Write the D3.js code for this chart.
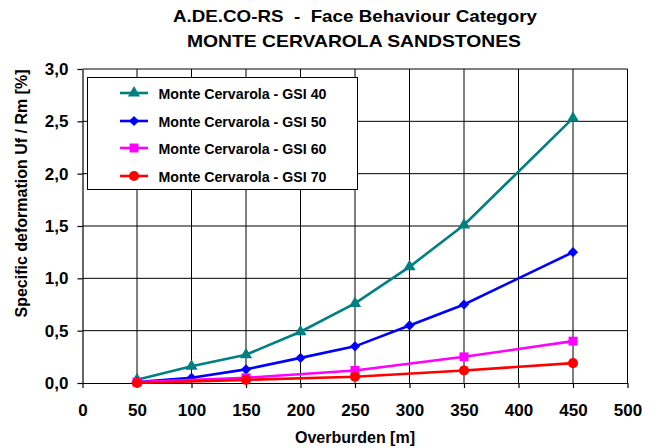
<!DOCTYPE html>
<html><head><meta charset="utf-8">
<script src="https://cdn.jsdelivr.net/npm/d3@7"></script>
<style>body{margin:0;background:#fff}svg{display:block;font-family:"Liberation Sans",Arial,sans-serif;font-weight:bold}text{white-space:pre}</style>
</head><body><svg id="c" width="656" height="448"></svg>
<script>
const titleLines = ["A.DE.CO-RS  -  Face Behaviour Category", "MONTE CERVAROLA SANDSTONES"];
const xTitle = "Overburden [m]";
const yTitle = "Specific deformation Uf / Rm [%]";
const xTicks = [0,50,100,150,200,250,300,350,400,450,500];
const yTicks = [0,0.5,1,1.5,2,2.5,3];
const seriesNames = ["Monte Cervarola - GSI 40","Monte Cervarola - GSI 50","Monte Cervarola - GSI 60","Monte Cervarola - GSI 70"];
const gsi40X = [50,100,150,200,250,300,350,450];
const gsi40Y = [0.03,0.16,0.27,0.49,0.76,1.11,1.51,2.53];
const gsi50X = [50,100,150,200,250,300,350,450];
const gsi50Y = [0.01,0.05,0.13,0.24,0.35,0.55,0.75,1.25];
const gsi60X = [50,150,250,350,450];
const gsi60Y = [0.01,0.05,0.12,0.25,0.40];
const gsi70X = [50,150,250,350,450];
const gsi70Y = [0.0,0.03,0.06,0.12,0.19];

const series = [
  {name: seriesNames[0], xs: gsi40X, ys: gsi40Y, color: "#008080", sym: d3.symbolTriangle, size: 64, rot: 0},
  {name: seriesNames[1], xs: gsi50X, ys: gsi50Y, color: "#0000FF", sym: d3.symbolSquare, size: 52, rot: 45},
  {name: seriesNames[2], xs: gsi60X, ys: gsi60Y, color: "#FF00FF", sym: d3.symbolSquare, size: 80, rot: 0},
  {name: seriesNames[3], xs: gsi70X, ys: gsi70Y, color: "#FF0000", sym: d3.symbolCircle, size: 80, rot: 0}
];

const svg = d3.select("#c");
const L = 82.5, R = 627.5, T = 69, B = 383;
const x = d3.scaleLinear().domain([0,500]).range([L,R]);
const y = d3.scaleLinear().domain([0,3]).range([B,T]);
const fmt = d => d3.format(".1f")(d).replace(".", ",");

// grid
const g = svg.append("g");
g.selectAll(".vx").data(xTicks.slice(1)).join("line")
  .attr("x1", d => x(d)).attr("x2", d => x(d)).attr("y1", T).attr("y2", B)
  .attr("stroke", "#000").attr("stroke-width", 1);
g.selectAll(".hy").data(yTicks.slice(1)).join("line")
  .attr("y1", d => y(d)).attr("y2", d => y(d)).attr("x1", L).attr("x2", R)
  .attr("stroke", "#000").attr("stroke-width", 1);

// axes
const xa = svg.append("g").attr("transform", `translate(0,${B})`)
  .call(d3.axisBottom(x).tickValues(xTicks).tickSize(5).tickPadding(15.5).tickSizeOuter(0).tickFormat(d3.format("d")));
const ya = svg.append("g").attr("transform", `translate(${L},0)`)
  .call(d3.axisLeft(y).tickValues(yTicks).tickSize(5).tickPadding(9).tickSizeOuter(0).tickFormat(fmt));
[xa, ya].forEach(a => {
  a.selectAll("path,line").attr("stroke", "#000").attr("stroke-width", 1.2);
  a.selectAll("text").attr("font-size", 17).attr("font-weight", "bold").attr("fill", "#000")
    .attr("font-family", '"Liberation Sans",Arial,sans-serif');
});

// series
const line = d3.line().x(d => x(d[0])).y(d => y(d[1]));
series.forEach(s => {
  const pts = s.xs.map((v, i) => [v, s.ys[i]]);
  svg.append("path").datum(pts).attr("d", line).attr("fill", "none")
    .attr("stroke", s.color).attr("stroke-width", 2.6);
  svg.append("g").selectAll("path").data(pts).join("path")
    .attr("transform", d => `translate(${x(d[0])},${y(d[1])}) rotate(${s.rot})`)
    .attr("d", d3.symbol().type(s.sym).size(s.size)).attr("fill", s.color);
});

// legend
const lg = svg.append("g");
lg.append("rect").attr("x", 87.5).attr("y", 77.5).attr("width", 270).attr("height", 112)
  .attr("fill", "#fff").attr("stroke", "#000").attr("stroke-width", 1);
const rowY = [93, 121, 148, 176];
series.forEach((s, i) => {
  lg.append("line").attr("x1", 120).attr("x2", 148).attr("y1", rowY[i]).attr("y2", rowY[i])
    .attr("stroke", s.color).attr("stroke-width", 2.6);
  lg.append("path").attr("transform", `translate(134,${rowY[i]}) rotate(${s.rot})`)
    .attr("d", d3.symbol().type(s.sym).size(s.size)).attr("fill", s.color);
  lg.append("text").attr("x", 158.5).attr("y", rowY[i] + 5.5).attr("font-size", 14.2).text(s.name);
});

// titles
svg.append("text").attr("x", 355).attr("y", 21.5).attr("text-anchor", "middle").attr("font-size", 17)
  .attr("textLength", 364).attr("lengthAdjust", "spacingAndGlyphs").text(titleLines[0]);
svg.append("text").attr("x", 354).attr("y", 46.5).attr("text-anchor", "middle").attr("font-size", 17)
  .attr("textLength", 334).attr("lengthAdjust", "spacingAndGlyphs").text(titleLines[1]);
svg.append("text").attr("x", 355).attr("y", 443).attr("text-anchor", "middle").attr("font-size", 16).text(xTitle);
svg.append("text").attr("transform", "translate(27,193.5) rotate(-90)").attr("text-anchor", "middle").attr("font-size", 16).text(yTitle);
</script></body></html>
